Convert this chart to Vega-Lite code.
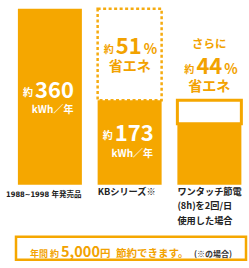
{
  "$schema": "https://vega.github.io/schema/vega-lite/v6.json",
  "padding": {"left": 5, "top": 6.75, "right": 0, "bottom": 0},
  "background": "white",
  "spacing": 52,
  "bounds": "flush",
  "config": {"view": {"stroke": null}, "text": {"font": "Noto Sans CJK JP", "fontWeight": "bold"}},
  "datasets": {
    "usage": [
      {"item": "1988~1998 年発売品", "kwh": 360, "approx": "約", "amount": "360", "unit": "kWh／年"},
      {"item": "KBシリーズ※", "kwh": 173, "approx": "約", "amount": "173", "unit": "kWh／年"},
      {"item": "ワンタッチ節電\n(8h)を2回/日\n使用した場合", "kwh": 125}
    ],
    "savings": [
      {"item": "KBシリーズ※", "from": 360, "to": 173, "lead": "", "approx": "約", "pct": "51", "percent": "%", "save": "省エネ"},
      {"item": "ワンタッチ節電\n(8h)を2回/日\n使用した場合", "from": 173, "to": 125, "lead": "さらに", "approx": "約", "pct": "44", "percent": "%", "save": "省エネ"}
    ],
    "note": [
      {"pre": "年間 約", "amount": "5,000", "yen": "円", "text": "節約できます。", "note": "(※の場合)"}
    ]
  },
  "vconcat": [
    {
      "width": 234,
      "height": 176,
      "layer": [
        {
          "data": {"name": "savings"},
          "transform": [{"filter": {"field": "item", "equal": "KBシリーズ※"}}],
          "mark": {"type": "rect", "fill": "white", "stroke": "#F5AB10", "strokeWidth": 2.5, "strokeDash": [3, 2.5]},
          "encoding": {
            "x": {"field": "item", "type": "nominal", "axis": null, "sort": null,
              "scale": {"domain": ["1988~1998 年発売品", "KBシリーズ※", "ワンタッチ節電\n(8h)を2回/日\n使用した場合"], "paddingInner": 0.1975, "paddingOuter": 0.066, "align": 0.18}},
            "y": {"field": "from", "type": "quantitative", "axis": null, "scale": {"domain": [0, 360], "nice": false, "zero": true}},
            "y2": {"field": "to"}
          }
        },
        {
          "data": {"name": "savings"},
          "transform": [{"filter": {"field": "item", "equal": "ワンタッチ節電\n(8h)を2回/日\n使用した場合"}}],
          "mark": {"type": "rect", "fill": "white", "stroke": "#F5A700", "strokeWidth": 3},
          "encoding": {
            "x": {"field": "item", "type": "nominal", "axis": null, "sort": null},
            "y": {"field": "from", "type": "quantitative", "axis": null},
            "y2": {"field": "to"}
          }
        },
        {
          "data": {"name": "usage"},
          "mark": {"type": "bar", "color": "#F5A700"},
          "encoding": {
            "x": {"field": "item", "type": "nominal", "axis": null, "sort": null},
            "y": {"field": "kwh", "type": "quantitative", "axis": null}
          }
        },
        {
          "data": {"name": "usage"},
          "transform": [{"filter": {"field": "item", "oneOf": ["KBシリーズ※", "ワンタッチ節電\n(8h)を2回/日\n使用した場合"]}}],
          "mark": {"type": "text", "align": "left", "baseline": "top", "dy": 3, "fontSize": 9.2, "lineBreak": "\n", "lineHeight": 14.5, "color": "#222222"},
          "encoding": {
            "x": {"field": "item", "type": "nominal", "bandPosition": 0, "axis": null, "sort": null},
            "y": {"datum": 0, "type": "quantitative"},
            "text": {"field": "item", "type": "nominal"}
          }
        },
        {
          "data": {"name": "usage"},
          "transform": [{"filter": {"field": "item", "equal": "1988~1998 年発売品"}}],
          "mark": {"type": "text", "align": "left", "baseline": "top", "dx": -11.9, "dy": 6.5, "fontSize": 7.5, "font": "DejaVu Sans Condensed, Noto Sans CJK JP", "color": "#222222"},
          "encoding": {
            "x": {"field": "item", "type": "nominal", "bandPosition": 0, "axis": null, "sort": null},
            "y": {"datum": 0, "type": "quantitative"},
            "text": {"field": "item", "type": "nominal"}
          }
        },
        {
          "data": {"name": "usage"},
          "transform": [{"filter": {"field": "item", "equal": "1988~1998 年発売品"}}],
          "mark": {"type": "text", "align": "right", "baseline": "alphabetic", "dx": -8, "dy": 89, "fontSize": 22, "color": "white"},
          "encoding": {
            "x": {"field": "item", "type": "nominal", "bandPosition": 1, "axis": null, "sort": null},
            "y": {"datum": 360, "type": "quantitative"},
            "text": {"field": "amount", "type": "nominal"}
          }
        },
        {
          "data": {"name": "usage"},
          "transform": [{"filter": {"field": "item", "equal": "1988~1998 年発売品"}}],
          "mark": {"type": "text", "align": "right", "baseline": "alphabetic", "dx": -49, "dy": 87.5, "fontSize": 10, "color": "white"},
          "encoding": {
            "x": {"field": "item", "type": "nominal", "bandPosition": 1, "axis": null, "sort": null},
            "y": {"datum": 360, "type": "quantitative"},
            "text": {"field": "approx", "type": "nominal"}
          }
        },
        {
          "data": {"name": "usage"},
          "transform": [{"filter": {"field": "item", "equal": "1988~1998 年発売品"}}],
          "mark": {"type": "text", "align": "right", "baseline": "alphabetic", "dx": -8.5, "dy": 104, "fontSize": 10, "color": "white"},
          "encoding": {
            "x": {"field": "item", "type": "nominal", "bandPosition": 1, "axis": null, "sort": null},
            "y": {"datum": 360, "type": "quantitative"},
            "text": {"field": "unit", "type": "nominal"}
          }
        },
        {
          "data": {"name": "usage"},
          "transform": [{"filter": {"field": "item", "equal": "KBシリーズ※"}}],
          "mark": {"type": "text", "align": "right", "baseline": "alphabetic", "dx": -8, "dy": 40.6, "fontSize": 22, "color": "white"},
          "encoding": {
            "x": {"field": "item", "type": "nominal", "bandPosition": 1, "axis": null, "sort": null},
            "y": {"datum": 173, "type": "quantitative"},
            "text": {"field": "amount", "type": "nominal"}
          }
        },
        {
          "data": {"name": "usage"},
          "transform": [{"filter": {"field": "item", "equal": "KBシリーズ※"}}],
          "mark": {"type": "text", "align": "right", "baseline": "alphabetic", "dx": -49, "dy": 39, "fontSize": 10, "color": "white"},
          "encoding": {
            "x": {"field": "item", "type": "nominal", "bandPosition": 1, "axis": null, "sort": null},
            "y": {"datum": 173, "type": "quantitative"},
            "text": {"field": "approx", "type": "nominal"}
          }
        },
        {
          "data": {"name": "usage"},
          "transform": [{"filter": {"field": "item", "equal": "KBシリーズ※"}}],
          "mark": {"type": "text", "align": "right", "baseline": "alphabetic", "dx": -8.5, "dy": 56.6, "fontSize": 10, "color": "white"},
          "encoding": {
            "x": {"field": "item", "type": "nominal", "bandPosition": 1, "axis": null, "sort": null},
            "y": {"datum": 173, "type": "quantitative"},
            "text": {"field": "unit", "type": "nominal"}
          }
        },
        {
          "data": {"name": "savings"},
          "transform": [{"filter": {"field": "item", "equal": "KBシリーズ※"}}],
          "mark": {"type": "text", "align": "center", "baseline": "alphabetic", "dx": -1, "dy": 45, "fontSize": 22, "color": "#F2A200"},
          "encoding": {
            "x": {"field": "item", "type": "nominal", "axis": null, "sort": null},
            "y": {"datum": 360, "type": "quantitative"},
            "text": {"field": "pct", "type": "nominal"}
          }
        },
        {
          "data": {"name": "savings"},
          "transform": [{"filter": {"field": "item", "equal": "KBシリーズ※"}}],
          "mark": {"type": "text", "align": "right", "baseline": "alphabetic", "dx": -16, "dy": 44, "fontSize": 10, "color": "#F2A200"},
          "encoding": {
            "x": {"field": "item", "type": "nominal", "axis": null, "sort": null},
            "y": {"datum": 360, "type": "quantitative"},
            "text": {"field": "approx", "type": "nominal"}
          }
        },
        {
          "data": {"name": "savings"},
          "transform": [{"filter": {"field": "item", "equal": "KBシリーズ※"}}],
          "mark": {"type": "text", "align": "left", "baseline": "alphabetic", "dx": 14, "dy": 45, "fontSize": 14, "color": "#F2A200"},
          "encoding": {
            "x": {"field": "item", "type": "nominal", "axis": null, "sort": null},
            "y": {"datum": 360, "type": "quantitative"},
            "text": {"field": "percent", "type": "nominal"}
          }
        },
        {
          "data": {"name": "savings"},
          "transform": [{"filter": {"field": "item", "equal": "KBシリーズ※"}}],
          "mark": {"type": "text", "align": "center", "baseline": "alphabetic", "dy": 62, "fontSize": 14, "color": "#F2A200"},
          "encoding": {
            "x": {"field": "item", "type": "nominal", "axis": null, "sort": null},
            "y": {"datum": 360, "type": "quantitative"},
            "text": {"field": "save", "type": "nominal"}
          }
        },
        {
          "data": {"name": "savings"},
          "transform": [{"filter": {"field": "item", "equal": "ワンタッチ節電\n(8h)を2回/日\n使用した場合"}}],
          "mark": {"type": "text", "align": "center", "baseline": "alphabetic", "dy": -52, "fontSize": 11.5, "color": "#F2A200"},
          "encoding": {
            "x": {"field": "item", "type": "nominal", "axis": null, "sort": null},
            "y": {"datum": 173, "type": "quantitative"},
            "text": {"field": "lead", "type": "nominal"}
          }
        },
        {
          "data": {"name": "savings"},
          "transform": [{"filter": {"field": "item", "equal": "ワンタッチ節電\n(8h)を2回/日\n使用した場合"}}],
          "mark": {"type": "text", "align": "center", "baseline": "alphabetic", "dy": -26, "fontSize": 22, "color": "#F2A200"},
          "encoding": {
            "x": {"field": "item", "type": "nominal", "axis": null, "sort": null},
            "y": {"datum": 173, "type": "quantitative"},
            "text": {"field": "pct", "type": "nominal"}
          }
        },
        {
          "data": {"name": "savings"},
          "transform": [{"filter": {"field": "item", "equal": "ワンタッチ節電\n(8h)を2回/日\n使用した場合"}}],
          "mark": {"type": "text", "align": "right", "baseline": "alphabetic", "dx": -15, "dy": -27, "fontSize": 10, "color": "#F2A200"},
          "encoding": {
            "x": {"field": "item", "type": "nominal", "axis": null, "sort": null},
            "y": {"datum": 173, "type": "quantitative"},
            "text": {"field": "approx", "type": "nominal"}
          }
        },
        {
          "data": {"name": "savings"},
          "transform": [{"filter": {"field": "item", "equal": "ワンタッチ節電\n(8h)を2回/日\n使用した場合"}}],
          "mark": {"type": "text", "align": "left", "baseline": "alphabetic", "dx": 15, "dy": -26, "fontSize": 14, "color": "#F2A200"},
          "encoding": {
            "x": {"field": "item", "type": "nominal", "axis": null, "sort": null},
            "y": {"datum": 173, "type": "quantitative"},
            "text": {"field": "percent", "type": "nominal"}
          }
        },
        {
          "data": {"name": "savings"},
          "transform": [{"filter": {"field": "item", "equal": "ワンタッチ節電\n(8h)を2回/日\n使用した場合"}}],
          "mark": {"type": "text", "align": "center", "baseline": "alphabetic", "dy": -9, "fontSize": 14, "color": "#F2A200"},
          "encoding": {
            "x": {"field": "item", "type": "nominal", "axis": null, "sort": null},
            "y": {"datum": 173, "type": "quantitative"},
            "text": {"field": "save", "type": "nominal"}
          }
        }
      ]
    },
    {
      "width": 230,
      "height": 23,
      "view": {"stroke": "#F5A700", "strokeWidth": 2.5},
      "data": {"name": "note"},
      "layer": [
        {"mark": {"type": "text", "align": "right", "baseline": "alphabetic", "dx": -72, "dy": 8.5, "fontSize": 9, "color": "#F2A200"}, "encoding": {"text": {"field": "pre", "type": "nominal"}}},
        {"mark": {"type": "text", "align": "left", "baseline": "alphabetic", "dx": -70, "dy": 9, "fontSize": 14.5, "color": "#F2A200"}, "encoding": {"text": {"field": "amount", "type": "nominal"}}},
        {"mark": {"type": "text", "align": "left", "baseline": "alphabetic", "dx": -31, "dy": 8.5, "fontSize": 10.5, "color": "#F2A200"}, "encoding": {"text": {"field": "yen", "type": "nominal"}}},
        {"mark": {"type": "text", "align": "left", "baseline": "alphabetic", "dx": -15, "dy": 8.5, "fontSize": 10.5, "color": "#F2A200"}, "encoding": {"text": {"field": "text", "type": "nominal"}}},
        {"mark": {"type": "text", "align": "left", "baseline": "alphabetic", "dx": 63, "dy": 8.5, "fontSize": 8, "color": "#333333"}, "encoding": {"text": {"field": "note", "type": "nominal"}}}
      ]
    }
  ]
}
